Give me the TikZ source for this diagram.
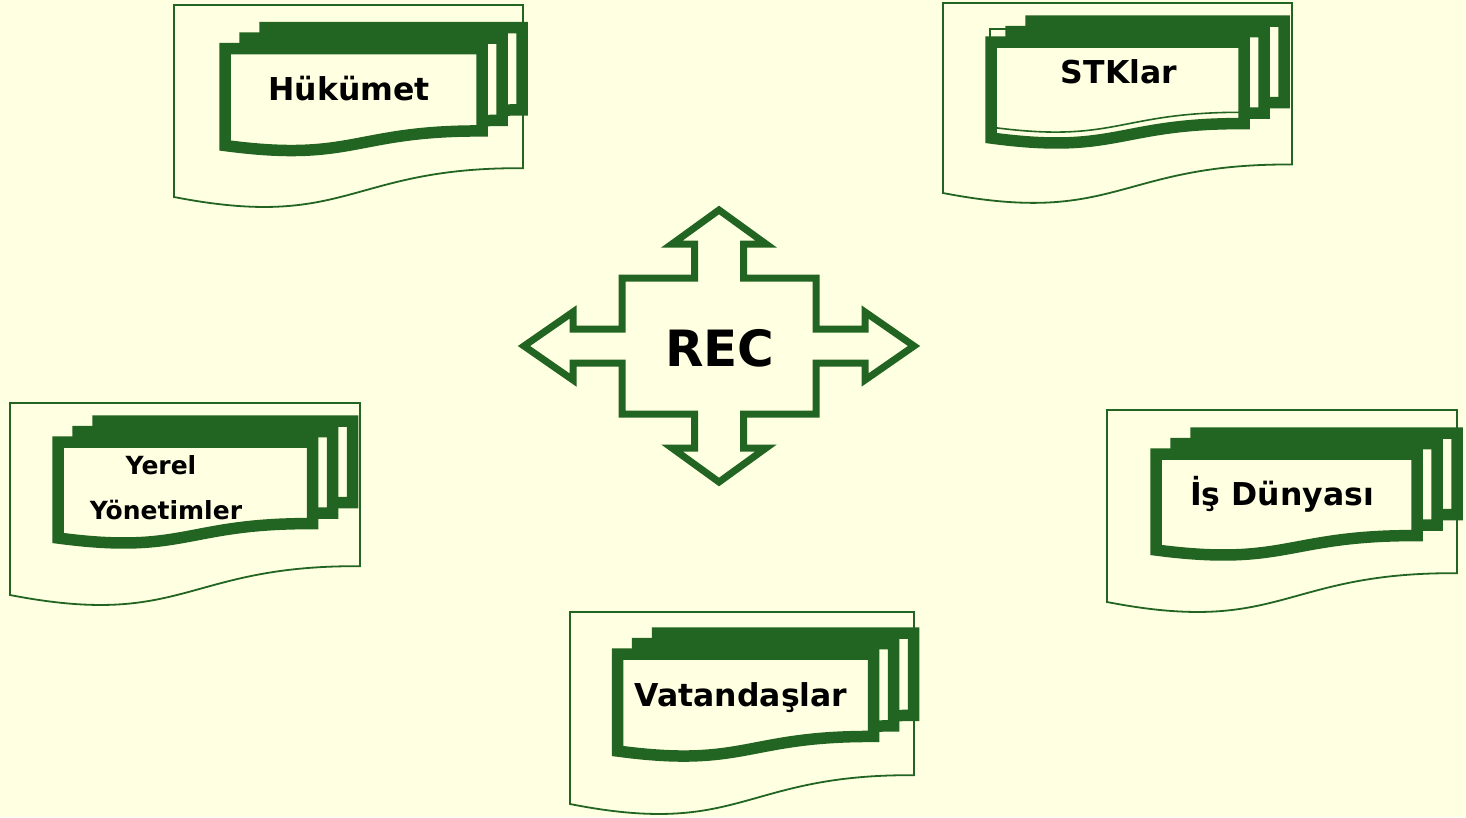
\documentclass[tikz,border=0pt]{standalone}
\usepackage{fontspec}
\setmainfont{DejaVu Sans}
\usepackage{xcolor}

\definecolor{docgreen}{RGB}{34,100,34}
\definecolor{paper}{RGB}{255,255,225}

\tikzset{
    outerdoc/.style={draw=docgreen, line width=1.8pt, fill=paper},
    stackdoc/.style={draw=docgreen, line width=11.5pt, fill=paper},
    thindoc/.style={draw=docgreen, line width=1.6pt},
    quadarrow/.style={draw=docgreen, line width=7pt},
    doclabel/.style={anchor=base, font=\bfseries\fontsize{31.5}{36}\selectfont},
    smalllabel/.style={anchor=base, font=\bfseries\fontsize{25}{30}\selectfont}
}

% one document sheet: style, left, top, width, height (left edge)
\newcommand{\docshape}[5]{%
    \draw[#1] ({#2},{#3}) -- ({#2+#4},{#3}) -- ({#2+#4},{#3+0.85*#5})
        .. controls ({#2+0.5*#4},{#3+0.844*#5}) and ({#2+0.5*#4},{#3+1.177*#5}) .. ({#2},{#3+#5}) -- cycle;}

% three sheets on top of each other
\newcommand{\docstack}[4]{%
    \docshape{stackdoc}{#1+40}{#2-21}{#3}{#4}
    \docshape{stackdoc}{#1+20}{#2-10.5}{#3}{#4}
    \docshape{stackdoc}{#1}{#2}{#3}{#4}}

\begin{document}
\begin{tikzpicture}[x=1pt, y=-1pt]

    \useasboundingbox (0,0) rectangle (1466,817);
    \fill[paper] (0,0) rectangle (1466,817);

    % Hukumet, top left

    \docshape{outerdoc}{174}{5}{349}{192}
    \docstack{225}{48.5}{257}{97}
    \node[doclabel] (hukumet) at (349,100) {Hükümet};

    % STK, top right

    \docshape{outerdoc}{943}{3}{349}{190}
    \docstack{991}{42}{253}{96}
    \docshape{thindoc}{990}{29}{254}{98}
    \node[doclabel] (stk) at (1119,83) {STKlar};

    % Yerel yonetimler, left

    \docshape{outerdoc}{10}{403}{350}{192}
    \docstack{58}{442}{254.5}{96}
    \node[smalllabel] (yerel) at (161,474) {Yerel};
    \node[smalllabel] (yonetim) at (166,519.7) {Yönetimler};

    % Is dunyasi, right

    \docshape{outerdoc}{1107}{410}{350}{192}
    \docstack{1156}{454}{261}{96}
    \node[doclabel] (isdunya) at (1282,505) {İş Dünyası};

    % Vatandaslar, bottom

    \docshape{outerdoc}{570}{612}{344}{192}
    \docstack{617.5}{654}{256}{97}
    \node[doclabel] (vatandas) at (741,706.7) {Vatandaşlar};

    % Arrow in the middle

    \coordinate (rec) at (719,346);

    \draw[quadarrow, shift={(rec)}]
        (0,-136) -- (47,-102) -- (24.5,-102) -- (24.5,-68) -- (97,-68) -- (97,-17)
        -- (146,-17) -- (146,-34) -- (195,0) -- (146,34) -- (146,17) -- (97,17)
        -- (97,68) -- (24.5,68) -- (24.5,102) -- (47,102) -- (0,136)
        -- (-47,102) -- (-24.5,102) -- (-24.5,68) -- (-97,68) -- (-97,17)
        -- (-146,17) -- (-146,34) -- (-195,0) -- (-146,-34) -- (-146,-17) -- (-97,-17)
        -- (-97,-68) -- (-24.5,-68) -- (-24.5,-102) -- (-47,-102) -- cycle;

    \node[anchor=base, font=\bfseries\fontsize{50}{60}\selectfont] (rectext) at (720,366.7) {REC};

\end{tikzpicture}
\end{document}
